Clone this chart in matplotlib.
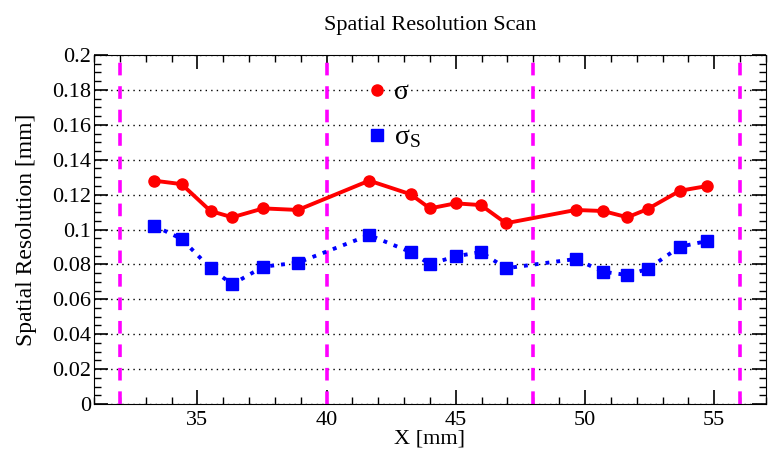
import numpy as np
import matplotlib.pyplot as plt
from matplotlib.ticker import MultipleLocator, FuncFormatter

# Data
x_pos = [33.32, 34.39, 35.51, 36.35, 37.55, 38.89, 41.65, 43.25, 44.0,
         44.99, 45.97, 46.94, 49.64, 50.70, 51.64, 52.42, 53.67, 54.72]
sigma = [0.128, 0.126, 0.1106, 0.107, 0.1121, 0.1112, 0.128, 0.1202, 0.1121,
         0.115, 0.114, 0.1036, 0.1112, 0.1106, 0.107, 0.1117, 0.1222, 0.1249]
sigma_s = [0.1022, 0.0946, 0.0778, 0.0686, 0.0787, 0.081, 0.0968, 0.0871, 0.0802,
           0.0846, 0.0871, 0.0778, 0.0831, 0.0758, 0.0739, 0.0774, 0.0901, 0.0934]
boundaries = [32, 40, 48, 56]

plt.rcParams['font.family'] = ['Liberation Serif', 'DejaVu Serif']
plt.rcParams['mathtext.fontset'] = 'custom'
plt.rcParams['mathtext.rm'] = 'Liberation Serif'

fig = plt.figure(figsize=(7.69, 4.61), dpi=100)
ax = fig.add_axes([0.1222, 0.1236, 0.8738, 0.7571])

for b in boundaries:
    ax.axvline(b, color='#ff00ff', lw=2.6, ls=(0, (3.5, 3)), zorder=1)

ax.plot(x_pos, sigma, color='#ff0000', lw=2.8, marker='o', ms=8,
        label='σ', zorder=3)
ax.plot(x_pos, sigma_s, color='#0000ff', lw=2.8, ls=(0, (1, 1.8)), marker='s', ms=8,
        label=r'$\mathrm{σ_S}$', zorder=3)

ax.set_xlim(31, 57)
ax.set_ylim(0, 0.2)
ax.xaxis.set_major_locator(MultipleLocator(5))
ax.xaxis.set_minor_locator(MultipleLocator(1))
ax.yaxis.set_major_locator(MultipleLocator(0.02))
ax.yaxis.set_minor_locator(MultipleLocator(0.005))
ax.yaxis.set_major_formatter(FuncFormatter(lambda v, p: '%g' % round(v, 3)))
ax.tick_params(which='both', direction='in', top=True, right=True, labelsize=16)
ax.tick_params(axis='y', pad=2)
ax.tick_params(axis='x', pad=5)
ax.tick_params(which='major', length=10, width=1.2)
ax.tick_params(which='minor', length=5, width=1.0)
ax.grid(axis='y', which='major', color='black', ls=(0, (1, 3)), lw=1.0)
ax.set_axisbelow(True)

ax.set_title('Spatial Resolution Scan', fontsize=16, pad=18)
ax.set_xlabel('X [mm]', fontsize=16, labelpad=0)
ax.set_ylabel('Spatial Resolution [mm]', fontsize=17, labelpad=11)

leg = ax.legend(loc='upper left', bbox_to_anchor=(0.372, 1.0), frameon=False,
                fontsize=20, handlelength=0.6, handletextpad=0.3,
                labelspacing=0.7, markerscale=1.0)
for h in leg.legend_handles:
    h.set_linestyle('none')

fig.savefig('out.png', dpi=100)
